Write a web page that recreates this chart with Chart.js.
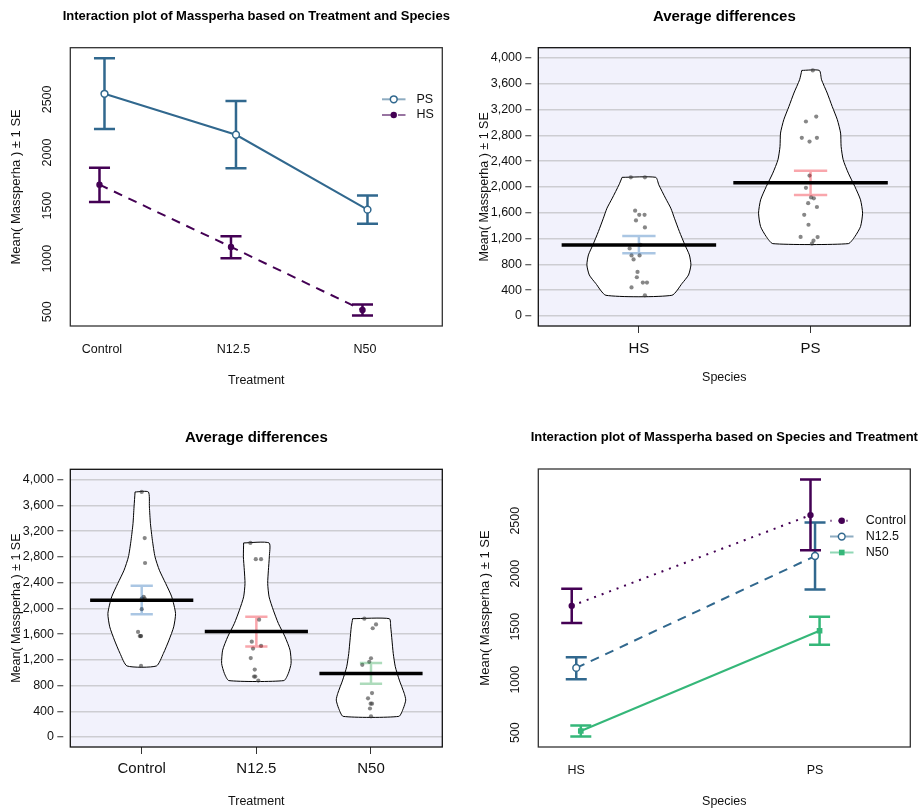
<!DOCTYPE html>
<html>
<head>
<meta charset="utf-8">
<script src="https://cdn.jsdelivr.net/npm/chart.js@4.4.1/dist/chart.umd.min.js"></script>
<style>
  html, body { margin: 0; padding: 0; background: #fff; }
  #wrap { position: relative; width: 919px; height: 811px; }
  canvas { position: absolute; }
</style>
</head>
<body>
<div id="wrap">
  <canvas id="c1" width="460" height="405" style="left:0;top:0"></canvas>
  <canvas id="c2" width="459" height="405" style="left:460px;top:0"></canvas>
  <canvas id="c3" width="460" height="406" style="left:0;top:405px"></canvas>
  <canvas id="c4" width="459" height="406" style="left:460px;top:405px"></canvas>
</div>
<script>
const treatments = ['Control', 'N12.5', 'N50']
const species = ['HS', 'PS']
const interTicks = [500, 1000, 1500, 2000, 2500]
const violinTicks = [0, 400, 800, 1200, 1600, 2000, 2400, 2800, 3200, 3600, 4000]

// group means +/- 1 SE (interaction plots)
const psMean = [2553, 2167, 1462]
const psLow = [2221, 1851, 1330]
const psHigh = [2888, 2484, 1594]
const hsMean = [1697, 1111, 516]
const hsLow = [1534, 1005, 465]
const hsHigh = [1857, 1212, 569]

// pooled means +/- 1 SE (pirate plots)
const speciesMean = [1102, 2065]
const speciesLow = [973, 1878]
const speciesHigh = [1242, 2251]
const treatMean = [2127, 1640, 988]
const treatLow = [1909, 1408, 828]
const treatHigh = [2349, 1868, 1149]

// raw Massperha, 6 plants per group
const hsControl = [2150, 2150, 1633, 1568, 1568, 1104]
const hsN12 = [1482, 1374, 1048, 939, 939, 877]
const hsN50 = [683, 601, 518, 518, 443, 321]
const psControl = [3808, 3092, 2704, 2178, 1987, 1568]
const psN12 = [3016, 2763, 2763, 1824, 1415, 1226]
const psN50 = [1839, 1749, 1690, 1224, 1168, 1122]

// horizontal jitter of the raw points (category units)
const hsJitter = [-0.047, 0.035, -0.022, 0.002, 0.033, 0.010, -0.017, 0.035, -0.054, -0.043, 0.004, -0.031, -0.008, -0.012, 0.023, 0.047, -0.043, 0.035]
const psJitter = [0.013, 0.033, -0.006, -0.006, -0.027, -0.037, -0.027, -0.051, 0.037, 0.019, -0.012, -0.058, 0.003, -0.014, 0.037, 0.041, 0.017, 0.008]
const controlJitter = [0, 0.026, -0.032, -0.017, -0.009, -0.006, 0, 0.026, 0.029, 0.017, 0, -0.006]
const n12Jitter = [-0.040, -0.029, -0.014, -0.020, -0.009, 0.017, -0.052, -0.005, 0.041, 0.024, 0.041, -0.049]
const n50Jitter = [0.009, -0.026, -0.003, 0.009, -0.009, 0, -0.058, 0.044, 0.015, 0, -0.015, -0.076]

// violin outlines: level and half width (category units)
const hsViolinY = [2150, 2034, 1827, 1671, 1516, 1309, 1102, 947, 792, 636, 507, 321]
const hsViolinW = [0.098, 0.116, 0.155, 0.186, 0.207, 0.236, 0.268, 0.294, 0.303, 0.289, 0.252, 0.192]
const psViolinY = [3808, 3663, 3457, 3249, 3043, 2836, 2628, 2422, 2215, 2007, 1801, 1594, 1386, 1231, 1122]
const psViolinW = [0.051, 0.064, 0.097, 0.126, 0.156, 0.175, 0.178, 0.190, 0.220, 0.258, 0.291, 0.303, 0.291, 0.258, 0.220]
const controlViolinY = [3808, 3575, 3317, 3058, 2799, 2592, 2386, 2178, 1920, 1712, 1506, 1299, 1104]
const controlViolinW = [0.058, 0.067, 0.076, 0.093, 0.116, 0.154, 0.209, 0.262, 0.295, 0.279, 0.238, 0.189, 0.128]
const n12ViolinY = [3016, 2799, 2592, 2386, 2178, 1971, 1765, 1557, 1350, 1144, 989, 877]
const n12ViolinW = [0.111, 0.113, 0.105, 0.099, 0.111, 0.148, 0.192, 0.250, 0.294, 0.303, 0.279, 0.240]
const n50ViolinY = [1839, 1712, 1506, 1299, 1092, 885, 678, 574, 445, 321]
const n50ViolinW = [0.160, 0.172, 0.183, 0.194, 0.212, 0.247, 0.290, 0.303, 0.282, 0.243]

const purple = '#440154', blue = '#31688E', green = '#35B779'
const seColors = ['rgba(12,91,176,0.35)', 'rgba(238,0,17,0.35)', 'rgba(21,152,61,0.35)']
const fontFamily = '"Liberation Sans", Arial, Helvetica, sans-serif'
const yTitle = 'Mean( Massperha ) \u00b1 1 SE'

Chart.defaults.font.family = fontFamily
Chart.defaults.color = '#111'
Chart.defaults.animation = false
Chart.defaults.events = []
Chart.defaults.plugins.legend.display = false
Chart.defaults.plugins.tooltip.enabled = false

// error bars for datasets that carry errLo / errHi
const errorBars = {
  id: 'errorBars',
  beforeDatasetDraw(chart, args) {
    const ds = chart.data.datasets[args.index]
    if (!ds.errLo) return
    const xs = chart.scales.x, ys = chart.scales.y, ctx = chart.ctx
    ctx.save()
    ctx.lineWidth = ds.errWidth
    ds.data.forEach((p, i) => {
      const x = xs.getPixelForValue(p.x)
      const half = xs.getPixelForValue(p.x + ds.errCap) - x
      const lo = ys.getPixelForValue(ds.errLo[i])
      const hi = ys.getPixelForValue(ds.errHi[i])
      ctx.strokeStyle = Array.isArray(ds.errColor) ? ds.errColor[i] : ds.errColor
      ctx.beginPath()
      ctx.moveTo(x, lo); ctx.lineTo(x, hi)
      ctx.moveTo(x - half, lo); ctx.lineTo(x + half, lo)
      ctx.moveTo(x - half, hi); ctx.lineTo(x + half, hi)
      ctx.stroke()
    })
    ctx.restore()
  }
}

// white inside of the violins, drawn under every dataset
const violinFill = {
  id: 'violinFill',
  beforeDatasetsDraw(chart) {
    const ctx = chart.ctx
    chart.data.datasets.forEach((ds, i) => {
      if (!ds.violin) return
      const line = chart.getDatasetMeta(i).dataset
      ctx.save()
      ctx.beginPath()
      line.updateControlPoints(chart.chartArea, 'x')
      line.path(ctx)
      ctx.closePath()
      ctx.fillStyle = '#fff'
      ctx.fill()
      ctx.restore()
    })
  }
}

const plotBox = {
  id: 'plotBox',
  beforeDraw(chart, args, opts) {
    if (!opts.fill) return
    const a = chart.chartArea
    chart.ctx.save()
    chart.ctx.fillStyle = opts.fill
    chart.ctx.fillRect(a.left, a.top, a.width, a.height)
    chart.ctx.restore()
  },
  afterDraw(chart, args, opts) {
    const a = chart.chartArea, ctx = chart.ctx
    ctx.save()
    ctx.strokeStyle = opts.color
    ctx.lineWidth = opts.width
    ctx.strokeRect(a.left, a.top, a.width, a.height)
    ctx.fillStyle = '#000'
    ctx.font = 'bold ' + opts.titleSize + 'px ' + fontFamily
    ctx.textAlign = 'center'
    ctx.textBaseline = 'middle'
    ctx.fillText(opts.title, (a.left + a.right) / 2, opts.titleY)
    ctx.restore()
  }
}

const lineLegend = {
  id: 'lineLegend',
  afterDatasetsDraw(chart, args, opts) {
    const ctx = chart.ctx
    chart.data.datasets.filter(d => d.inLegend).forEach((d, i) => {
      const y = opts.y + i * opts.step
      ctx.save()
      ctx.globalAlpha = 0.55
      ctx.strokeStyle = d.borderColor
      ctx.lineWidth = d.borderWidth
      ctx.setLineDash(d.borderDash || [])
      ctx.beginPath()
      ctx.moveTo(opts.x, y)
      ctx.lineTo(opts.x + opts.len, y)
      ctx.stroke()
      ctx.restore()
      ctx.save()
      ctx.fillStyle = d.pointBackgroundColor
      ctx.strokeStyle = d.pointBorderColor
      ctx.lineWidth = d.pointBorderWidth
      Chart.helpers.drawPoint(ctx, {pointStyle: d.pointStyle || 'circle', radius: d.pointRadius, borderWidth: d.pointBorderWidth, rotation: 0}, opts.x + opts.len / 2, y)
      ctx.fillStyle = '#111'
      ctx.font = '12.5px ' + fontFamily
      ctx.textAlign = 'left'
      ctx.textBaseline = 'middle'
      ctx.fillText(d.label, opts.x + opts.len + opts.gap, y)
      ctx.restore()
    })
  }
}

function catAxis(cats, min, max, height, o) {
  return {
    type: 'linear', min: min, max: max,
    afterBuildTicks: s => { s.ticks = cats.map((c, i) => ({value: i + 1})) },
    afterFit: s => { s.height = height },
    border: {display: false},
    grid: o.marks ? {drawOnChartArea: false, tickLength: 7, tickColor: '#333', tickWidth: 1} : {display: false, drawTicks: false},
    ticks: {padding: o.pad, font: {size: o.size}, maxRotation: 0, autoSkip: false, callback: v => cats[Math.round(v) - 1]},
    title: {display: true, text: o.title, font: {size: 12.5}, padding: {top: 0, bottom: o.titlePad}}
  }
}

function interY(min, max, width, titlePad) {
  return {
    min: min, max: max,
    afterBuildTicks: s => { s.ticks = interTicks.map(v => ({value: v})) },
    afterFit: s => { s.width = width },
    border: {display: false},
    grid: {display: false, drawTicks: false},
    ticks: {minRotation: 90, maxRotation: 90, crossAlign: 'center', padding: 8.8, font: {size: 12.5}, callback: v => String(v)},
    title: {display: true, text: yTitle, font: {size: 13}, padding: {top: titlePad, bottom: 0}}
  }
}

function violinY(width, titlePad) {
  return {
    min: -155, max: 4160,
    afterBuildTicks: s => { s.ticks = violinTicks.map(v => ({value: v})) },
    afterFit: s => { s.width = width },
    border: {display: false},
    grid: {color: '#cdcdd2', lineWidth: 1.5, tickLength: 13, tickColor: '#333', tickWidth: 1, tickBorderDash: [6, 20]},
    ticks: {padding: 3.3, font: {size: 12.5}, callback: v => v.toLocaleString('en-US')},
    title: {display: true, text: yTitle, font: {size: 12.5}, padding: {top: titlePad, bottom: 0}}
  }
}

function outline(c, ys, ws) {
  const right = ys.map((y, i) => ({x: c + ws[i], y: y}))
  const left = ys.map((y, i) => ({x: c - ws[i], y: y})).reverse()
  return [{x: c - ws[0], y: ys[0]}].concat(right, left)
}

function pirateDatasets(means, lows, highs, groups, jitters, shapesY, shapesW) {
  const sets = []
  means.forEach((m, i) => {
    sets.push({data: [{x: i + 1 - 0.45, y: m}, {x: i + 1 + 0.45, y: m}], showLine: true,
      borderColor: '#000', borderWidth: 3.5, pointRadius: 0, order: 0})
  })
  sets.push({data: means.map((m, i) => ({x: i + 1, y: m})), pointRadius: 0, order: 1,
    errLo: lows, errHi: highs, errColor: seColors, errCap: 0.097, errWidth: 2.5})
  groups.forEach((g, i) => {
    sets.push({data: g.map((v, k) => ({x: i + 1 + jitters[i][k], y: v})), pointRadius: 2.1,
      pointBackgroundColor: 'rgba(55,55,55,0.6)', pointBorderWidth: 0, order: 2})
    sets.push({data: outline(i + 1, shapesY[i], shapesW[i]), showLine: true, violin: true,
      borderColor: '#000', borderWidth: 1, tension: 0.2, pointRadius: 0, order: 3})
  })
  return sets
}

// 1: interaction plot by treatment
new Chart(document.getElementById('c1'), {
  type: 'scatter',
  data: {datasets: [
    {label: 'PS', data: psMean.map((v, i) => ({x: i + 1 + 0.019, y: v})), showLine: true, inLegend: true,
      borderColor: blue, borderWidth: 2, pointRadius: 3.4, pointBorderWidth: 1.5, pointBackgroundColor: '#fff', pointBorderColor: blue,
      errLo: psLow, errHi: psHigh, errColor: blue, errCap: 0.08, errWidth: 2.5},
    {label: 'HS', data: hsMean.map((v, i) => ({x: i + 1 - 0.019, y: v})), showLine: true, inLegend: true,
      borderColor: purple, borderWidth: 2, borderDash: [9, 7], pointRadius: 3.2, pointBorderWidth: 0, pointBackgroundColor: purple, pointBorderColor: purple,
      errLo: hsLow, errHi: hsHigh, errColor: purple, errCap: 0.08, errWidth: 2.5}
  ]},
  options: {
    responsive: false,
    layout: {padding: {left: 0, right: 17.7, top: 47.7, bottom: 0}},
    scales: {
      x: catAxis(treatments, 0.759, 3.588, 79, {pad: 15.8, size: 12.5, title: 'Treatment', titlePad: 16.8}),
      y: interY(366, 2987, 70.3, 8.9)
    },
    plugins: {
      plotBox: {color: '#333', width: 1.3, title: 'Interaction plot of Massperha based on Treatment and Species', titleSize: 13, titleY: 16.7},
      lineLegend: {x: 382, y: 99.3, step: 15.7, len: 23.5, gap: 11}
    }
  },
  plugins: [plotBox, errorBars, lineLegend]
})

// 2: pirate plot by species
new Chart(document.getElementById('c2'), {
  type: 'scatter',
  data: {datasets: pirateDatasets(speciesMean, speciesLow, speciesHigh,
    [hsControl.concat(hsN12, hsN50), psControl.concat(psN12, psN50)], [hsJitter, psJitter],
    [hsViolinY, psViolinY], [hsViolinW, psViolinW])},
  options: {
    responsive: false,
    layout: {padding: {left: 0, right: 8.7, top: 47.7, bottom: 0}},
    scales: {
      x: catAxis(species, 0.414, 2.581, 79, {marks: true, pad: 6.7, size: 15, title: 'Species', titlePad: 19.5}),
      y: violinY(78.3, 17.5)
    },
    plugins: {
      plotBox: {fill: '#f2f2fc', color: '#111', width: 1.3, title: 'Average differences', titleSize: 15, titleY: 17.2}
    }
  },
  plugins: [plotBox, violinFill, errorBars]
})

// 3: pirate plot by treatment
new Chart(document.getElementById('c3'), {
  type: 'scatter',
  data: {datasets: pirateDatasets(treatMean, treatLow, treatHigh,
    [hsControl.concat(psControl), hsN12.concat(psN12), hsN50.concat(psN50)], [controlJitter, n12Jitter, n50Jitter],
    [controlViolinY, n12ViolinY, n50ViolinY], [controlViolinW, n12ViolinW, n50ViolinW])},
  options: {
    responsive: false,
    layout: {padding: {left: 0, right: 17.7, top: 64.3, bottom: 0}},
    scales: {
      x: catAxis(treatments, 0.377, 3.622, 64, {marks: true, pad: 6, size: 15, title: 'Treatment', titlePad: 2.2}),
      y: violinY(70.3, 9.2)
    },
    plugins: {
      plotBox: {fill: '#f2f2fc', color: '#111', width: 1.3, title: 'Average differences', titleSize: 15, titleY: 32.5}
    }
  },
  plugins: [plotBox, violinFill, errorBars]
})

// 4: interaction plot by species
const treatColors = [purple, blue, green]
const treatDash = [[2, 6], [9, 7], []]
const treatFill = [purple, '#fff', green]
const treatPoint = ['circle', 'circle', 'rect']
const treatRadius = [3.2, 3.4, 4]
const treatBorder = [0, 1.5, 0]
const treatShift = [-0.019, 0, 0.019]
new Chart(document.getElementById('c4'), {
  type: 'scatter',
  data: {datasets: treatments.map((t, i) => ({
    label: t, inLegend: true, showLine: true,
    data: [{x: 1 + treatShift[i], y: hsMean[i]}, {x: 2 + treatShift[i], y: psMean[i]}],
    borderColor: treatColors[i], borderWidth: 2, borderDash: treatDash[i],
    pointStyle: treatPoint[i], pointRadius: treatRadius[i], pointBorderWidth: treatBorder[i],
    pointBackgroundColor: treatFill[i], pointBorderColor: treatColors[i],
    errLo: [hsLow[i], psLow[i]], errHi: [hsHigh[i], psHigh[i]], errColor: treatColors[i], errCap: 0.044, errWidth: 2.5
  }))},
  options: {
    responsive: false,
    layout: {padding: {left: 0, right: 8.7, top: 64, bottom: 0}},
    scales: {
      x: catAxis(species, 0.841, 2.399, 64, {pad: 15.8, size: 12.5, title: 'Species', titlePad: 1.8}),
      y: interY(365, 2988, 78.3, 17.2)
    },
    plugins: {
      plotBox: {color: '#333', width: 1.3, title: 'Interaction plot of Massperha based on Species and Treatment', titleSize: 13, titleY: 32.7},
      lineLegend: {x: 370, y: 115.7, step: 15.9, len: 23.5, gap: 12.2}
    }
  },
  plugins: [plotBox, errorBars, lineLegend]
})
</script>
</body>
</html>
